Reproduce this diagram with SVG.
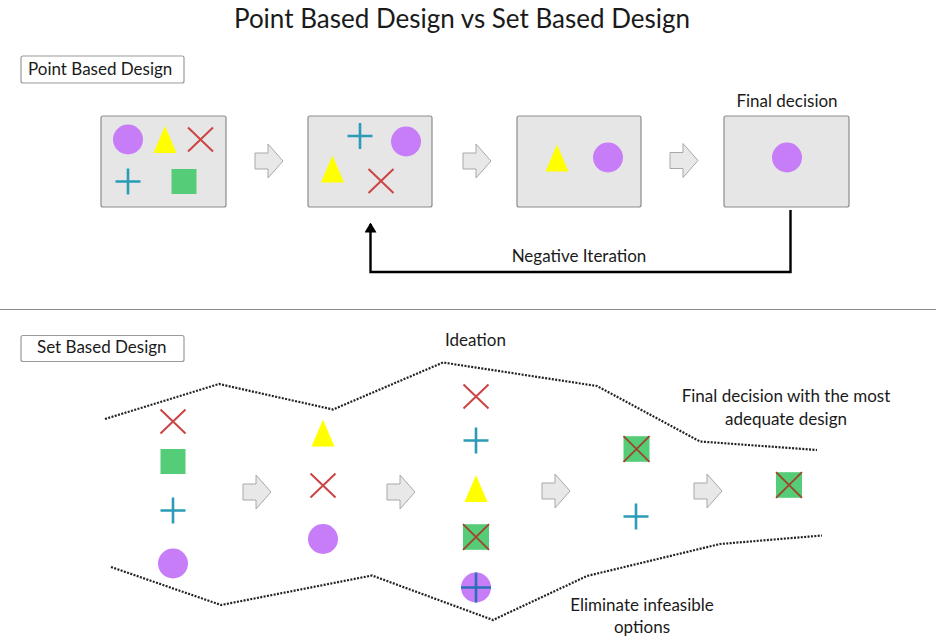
<svg xmlns="http://www.w3.org/2000/svg" xmlns:xlink="http://www.w3.org/1999/xlink" width="936" height="637" viewBox="0 0 936 637">
  <style>
    text { font-family: Lato, "Open Sans", "Liberation Sans", sans-serif; fill: #1a1a1a; }
    .title { font-size: 26px; }
    .lbl { font-size: 17px; }
    .tag { fill: #ffffff; stroke: #9a9a9a; stroke-width: 1.2; }
    .panel { fill: #e6e6e6; stroke: #8c8c8c; stroke-width: 1.2; }
    .blk { fill: #e8e8e8; stroke: #a8a8a8; stroke-width: 1; }
    .dots { fill: none; stroke: #222; stroke-width: 2.2; stroke-dasharray: 2 1.4; }
    .xr { fill: none; stroke: #cc4444; stroke-width: 2; }
    .pl { fill: none; stroke: #2b9bb8; stroke-width: 2.6; }
    .circ { fill: #c77cf8; }
    .tri { fill: #ffff00; }
    .sq { fill: #55cc77; }
    .sqx { fill: none; stroke: #a0442a; stroke-width: 1.8; }
    .pld { fill: none; stroke: #2a6fb8; stroke-width: 2.6; }
  </style>
  <defs>
    <path id="blk" class="blk" d="M0,-8 H13 V-17 L28,0 L13,17 V8 H0 Z"/>
    <path id="xs" class="xr" d="M-12.5,-12 L12.5,12 M-12.5,12 L12.5,-12"/>
    <path id="ps" class="pl" d="M-12.5,0 H12.5 M0,-13 V13"/>
    <circle id="cs" class="circ" r="15"/>
    <path id="ts" class="tri" d="M0,-13.5 L11.5,13.5 H-11.5 Z"/>
    <rect id="ss" class="sq" x="-12.5" y="-12.5" width="25" height="25"/>
    <g id="sxs">
      <rect class="sq" x="-13" y="-12.8" width="26" height="25.6"/>
      <path class="sqx" d="M-13,-12.8 L13,12.8 M-13,12.8 L13,-12.8"/>
    </g>
    <marker id="head" markerWidth="10" markerHeight="12" refX="8.5" refY="6" orient="auto" markerUnits="userSpaceOnUse" viewBox="0 0 10 12">
      <path d="M0,0 L10,6 L0,12 Z" fill="#000"/>
    </marker>
  </defs>

  <text class="title" x="462" y="28" text-anchor="middle">Point Based Design vs Set Based Design</text>

  <!-- point based design -->
  <g id="point-label">
    <rect class="tag" x="21" y="56" width="163" height="27" rx="2"/>
    <text class="lbl" x="28" y="75">Point Based Design</text>
  </g>

  <g id="pb-1">
    <rect class="panel" x="101" y="116" width="125" height="91" rx="2"/>
    <use href="#cs" x="128" y="139.5"/>
    <use href="#ts" x="165" y="139.5"/>
    <use href="#xs" x="200.5" y="139.5"/>
    <use href="#ps" x="128" y="181.5"/>
    <use href="#ss" x="184" y="181.5"/>
  </g>
  <g id="pb-2">
    <rect class="panel" x="308" y="116" width="124" height="91" rx="2"/>
    <use href="#ps" x="360" y="136"/>
    <use href="#cs" x="406" y="141.5"/>
    <use href="#ts" x="332.5" y="169"/>
    <use href="#xs" x="381" y="181"/>
  </g>
  <g id="pb-3">
    <rect class="panel" x="517" y="116" width="124" height="91" rx="2"/>
    <use href="#ts" x="557" y="158"/>
    <use href="#cs" x="608" y="157.5"/>
  </g>
  <g id="pb-4">
    <rect class="panel" x="724" y="116" width="125" height="91" rx="2"/>
    <use href="#cs" x="787" y="157.5"/>
    <text class="lbl" x="787" y="107" text-anchor="middle">Final decision</text>
  </g>

  <g id="connectors">
    <use href="#blk" x="255" y="161"/>
    <use href="#blk" x="463" y="161"/>
    <use href="#blk" x="670" y="160.5"/>
    <path d="M790.5,210 V272 H370.5 V224" fill="none" stroke="#000" stroke-width="2.4" marker-end="url(#head)"/>
    <text class="lbl" x="579" y="262" text-anchor="middle">Negative Iteration</text>

    <use href="#blk" x="243" y="492"/>
    <use href="#blk" x="387" y="492"/>
    <use href="#blk" x="542" y="491"/>
    <use href="#blk" x="694" y="491"/>
  </g>

  <line x1="0" y1="309.5" x2="936" y2="309.5" stroke="#8a8a8a" stroke-width="1.2"/>

  <!-- set based design -->
  <g id="set-label">
    <rect class="tag" x="21" y="335.5" width="163" height="26" rx="2"/>
    <text class="lbl" x="37" y="353">Set Based Design</text>
  </g>

  <g id="funnel">
    <polyline class="dots" points="105,419 219,384 333,409.5 443,362.5 597,386 700,441.5 817,450"/>
    <polyline class="dots" points="111,567 221,605 372,575.5 493,620 587,576 720,544 822,535.5"/>
    <text class="lbl" x="445" y="346">Ideation</text>
    <text class="lbl" x="786" y="402" text-anchor="middle">Final decision with the most</text>
    <text class="lbl" x="786" y="425" text-anchor="middle">adequate design</text>
    <text class="lbl" x="642" y="611" text-anchor="middle">Eliminate infeasible</text>
    <text class="lbl" x="642" y="633" text-anchor="middle">options</text>
  </g>

  <g id="sb-1">
    <use href="#xs" x="173" y="421.5"/>
    <use href="#ss" x="173" y="461.5"/>
    <use href="#ps" x="173" y="510.5"/>
    <use href="#cs" x="173" y="563.5"/>
  </g>
  <g id="sb-2">
    <use href="#ts" x="323" y="433"/>
    <use href="#xs" x="323" y="485.5"/>
    <use href="#cs" x="323" y="539"/>
  </g>
  <g id="sb-3">
    <use href="#xs" x="476" y="396.5"/>
    <use href="#ps" x="476" y="440.5"/>
    <use href="#ts" x="476" y="488.5"/>
    <use href="#sxs" x="476" y="537"/>
    <use href="#cs" x="476" y="587.5"/>
    <path class="pld" d="M461,587.5 H491 M476,572.5 V602.5"/>
  </g>
  <g id="sb-4">
    <use href="#sxs" x="636.5" y="449"/>
    <use href="#ps" x="636" y="516.5"/>
  </g>
  <g id="sb-5">
    <use href="#sxs" x="789" y="485"/>
  </g>
</svg>
